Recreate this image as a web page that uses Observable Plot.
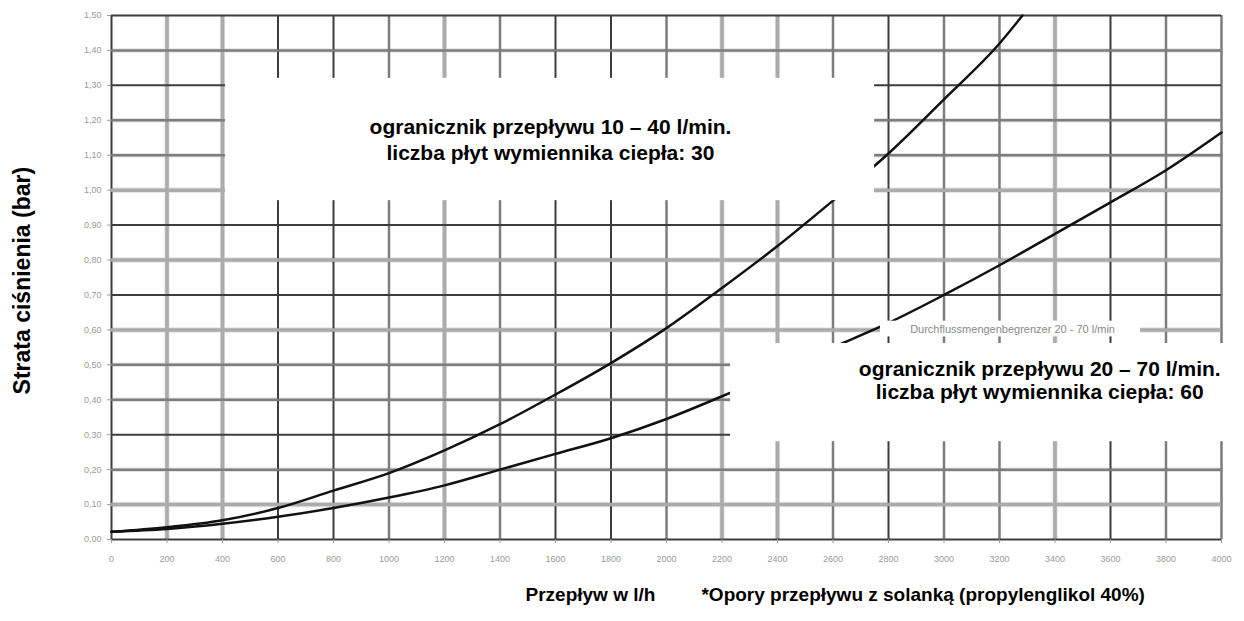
<!DOCTYPE html>
<html>
<head>
<meta charset="utf-8">
<script src="https://cdn.jsdelivr.net/npm/d3@7"></script>
<script src="https://cdn.jsdelivr.net/npm/@observablehq/plot@0.6"></script>
<style>
  html, body { margin: 0; padding: 0; background: #fff; }
  #chart svg { display: block; }
</style>
</head>
<body>
<div id="chart"></div>
<script>
// ---- data ----
const xTicks = [0,200,400,600,800,1000,1200,1400,1600,1800,2000,2200,2400,2600,2800,3000,3200,3400,3600,3800,4000];
const yTicks = [0,0.1,0.2,0.3,0.4,0.5,0.6,0.7,0.8,0.9,1.0,1.1,1.2,1.3,1.4,1.5];
const yTickLabels = ["0,00","0,10","0,20","0,30","0,40","0,50","0,60","0,70","0,80","0,90","1,00","1,10","1,20","1,30","1,40","1,50"];

// curve: ogranicznik 10–40 l/min, 30 plates
const flow30 = [0,200,400,600,800,1000,1200,1400,1600,1800,2000,2200,2400,2600,2800,3000,3200,3283];
const loss30 = [0.022,0.035,0.055,0.09,0.14,0.19,0.255,0.33,0.415,0.505,0.605,0.72,0.84,0.97,1.105,1.26,1.42,1.50];
// curve: ogranicznik 20–70 l/min, 60 plates
const flow60 = [0,200,400,600,800,1000,1200,1400,1600,1800,2000,2200,2400,2600,2800,3000,3200,3400,3600,3800,4000];
const loss60 = [0.022,0.03,0.045,0.065,0.09,0.12,0.155,0.20,0.245,0.29,0.345,0.41,0.48,0.55,0.62,0.70,0.785,0.875,0.965,1.057,1.165];

const label30 = ["ogranicznik przepływu 10 – 40 l/min.", "liczba płyt wymiennika ciepła: 30"];
const label60 = ["ogranicznik przepływu 20 – 70 l/min.", "liczba płyt wymiennika ciepła: 60"];
const smallLabel = "Durchflussmengenbegrenzer 20 - 70 l/min";
const yTitle = "Strata ciśnienia (bar)";
const xTitle = "Przepływ w l/h";
const note = "*Opory przepływu z solanką (propylenglikol 40%)";

// ---- styles (grid tone per line: d = dark, m = mid, l = light) ----
const toneX = "dllddmlmddmllmdmmldmm";
const toneY = "dlmdmmldldlmmdmd";
const toneStyle = {
  d: {stroke: "#3d3d3d", w: 2},
  m: {stroke: "#7d7d7d", w: 2.5},
  l: {stroke: "#ababab", w: 3.5}
};

const gridX = xTicks.map((v, i) => ({v, ...toneStyle[toneX[i]]}));
const gridY = yTicks.map((v, i) => ({v, ...toneStyle[toneY[i]]}));
const c30 = flow30.map((f, i) => ({f, p: loss30[i]}));
const c60 = flow60.map((f, i) => ({f, p: loss60[i]}));

// annotation boxes (data coordinates)
const boxes = [
  {x1: 411, x2: 2750, y1: 0.97, y2: 1.32},
  {x1: 2231, x2: 4100, y1: 0.28, y2: 0.561},
  {x1: 2771, x2: 3708, y1: 0.58, y2: 0.625}
];
const texts = [
  {x: 1582, y: 1.18, t: label30[0]},
  {x: 1582, y: 1.105, t: label30[1]},
  {x: 3345, y: 0.487, t: label60[0]},
  {x: 3345, y: 0.421, t: label60[1]}
];

const plot = Plot.plot({
  width: 1244,
  height: 621,
  marginTop: 15,
  marginRight: 23,
  marginBottom: 82,
  marginLeft: 111,
  style: {background: "#fff", fontFamily: "'Liberation Sans', Arial, sans-serif"},
  x: {domain: [0, 4000]},
  y: {domain: [0, 1.5]},
  marks: [
    Plot.ruleX(gridX.filter(d => d.w > 3), {x: "v", stroke: "#dcdcdc", strokeWidth: d => d.w + 1.5}),
    Plot.ruleY(gridY.filter(d => d.w > 2), {y: "v", stroke: "#e4e4e4", strokeWidth: d => d.w + 2}),
    Plot.ruleX(gridX, {x: "v", stroke: "stroke", strokeWidth: "w"}),
    Plot.ruleY(gridY, {y: "v", stroke: "stroke", strokeWidth: "w"}),
    Plot.line(c30, {x: "f", y: "p", curve: "monotone-x", stroke: "#111", strokeWidth: 2.5}),
    Plot.line(c60, {x: "f", y: "p", curve: "monotone-x", stroke: "#111", strokeWidth: 2.5}),
    Plot.rect(boxes, {x1: "x1", x2: "x2", y1: "y1", y2: "y2", fill: "#fff"}),
    Plot.text(texts, {x: "x", y: "y", text: "t", fontSize: 21, fontWeight: "bold", fill: "#000"}),
    Plot.text([smallLabel], {x: 3247, y: 0.6, text: d => d, fontSize: 11, fill: "#8a8a8a"}),
    Plot.axisX({ticks: xTicks, tickSize: 4, tickPadding: 12, fontSize: 9, color: "#9a9a9a", tickFormat: d => String(d)}),
    Plot.axisY({ticks: yTicks, tickSize: 4, tickPadding: 6, fontSize: 9, color: "#9a9a9a", tickFormat: d => yTickLabels[yTicks.indexOf(d)]}),
    Plot.text([yTitle], {frameAnchor: "left", textAnchor: "middle", y: 0.741, dx: -89, rotate: -90, text: d => d, fontSize: 23, fontWeight: "bold", fill: "#000"}),
    Plot.text([xTitle], {frameAnchor: "bottom", x: 1726, dy: 61, text: d => d, fontSize: 19, fontWeight: "bold", fill: "#000"}),
    Plot.text([note], {frameAnchor: "bottom", x: 2925, dy: 61, text: d => d, fontSize: 19, fontWeight: "bold", fill: "#000"})
  ]
});
document.getElementById("chart").append(plot);
</script>
</body>
</html>
